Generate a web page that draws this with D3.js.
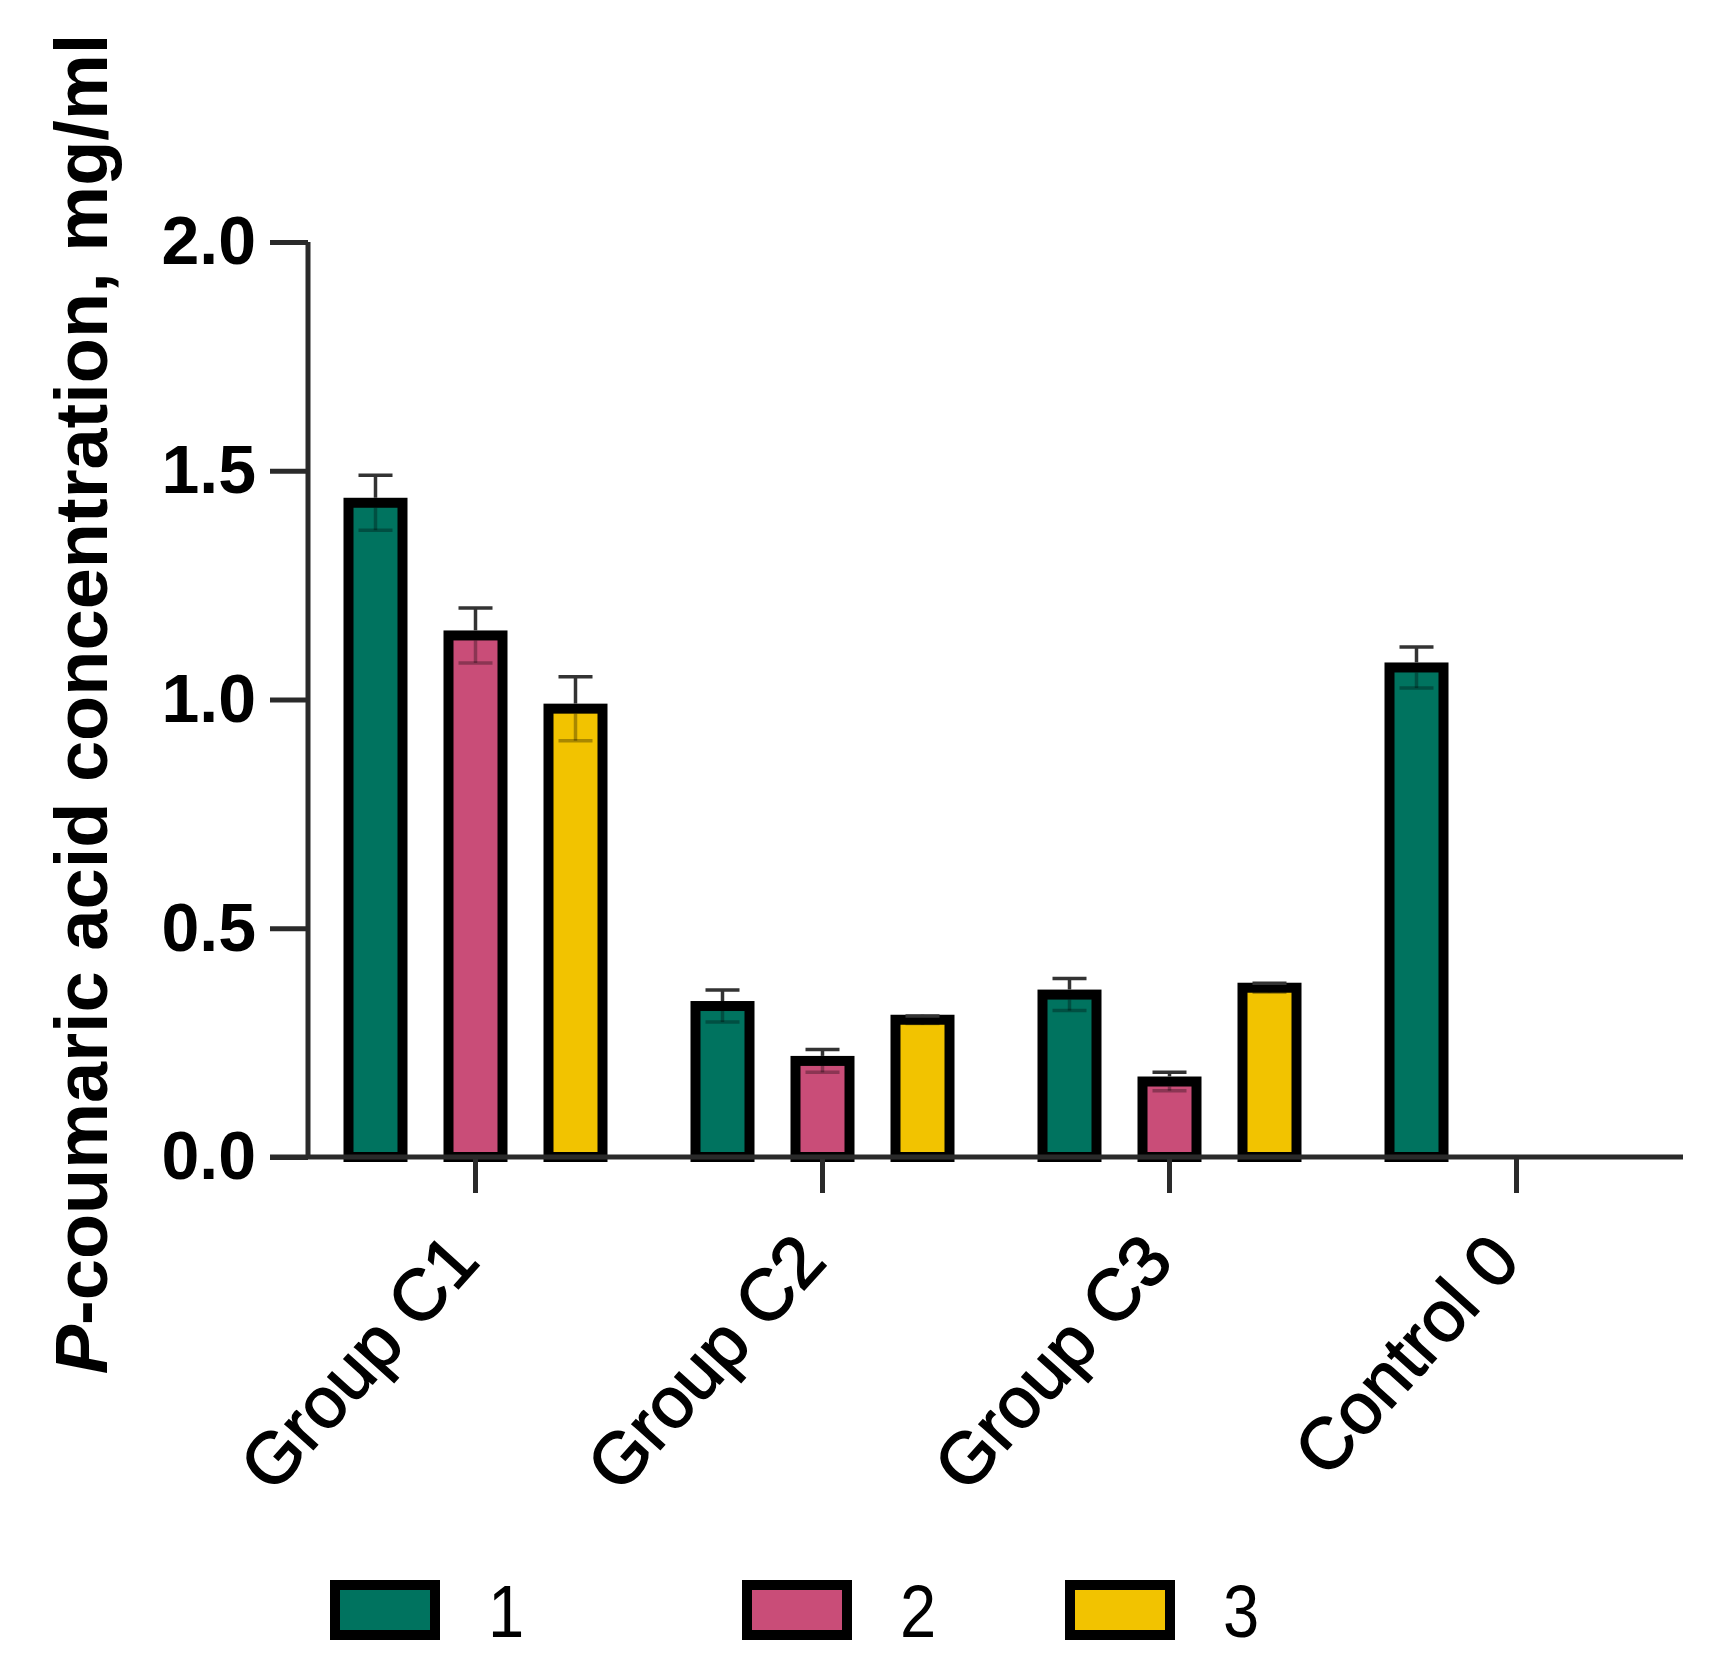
<!DOCTYPE html>
<html>
<head>
<meta charset="utf-8">
<script src="https://cdn.jsdelivr.net/npm/d3@7"></script>
<style>
  html, body { margin: 0; padding: 0; background: #fff; }
  svg { display: block; font-family: "Liberation Sans", Arial, Helvetica, sans-serif; }
</style>
</head>
<body>
<svg id="chart" width="1725" height="1678"></svg>
<script>
// ---- data ----
const groups = ["Group C1", "Group C2", "Group C3", "Control 0"];
const series = ["1", "2", "3"];
const values1 = [1.43, 0.33, 0.355, 1.07];
const values2 = [1.14, 0.21, 0.165, null];
const values3 = [0.98, 0.30, 0.37, null];
const errors1 = [0.06, 0.035, 0.035, 0.045];
const errors2 = [0.06, 0.025, 0.02, null];
const errors3 = [0.07, 0.008, 0.01, null];
const yTicks = [0.0, 0.5, 1.0, 1.5, 2.0];
const colors = ["#00735F", "#C94D78", "#F2C300"];
const yTitleMain = "-coumaric acid concentration, mg/ml";

const seriesValues = [values1, values2, values3];
const seriesErrors = [errors1, errors2, errors3];

const svg = d3.select("#chart");
svg.append("rect").attr("width", 1725).attr("height", 1678).attr("fill", "#fff");

const x = d3.scaleBand().domain(groups).range([302, 1690]).padding(0);
const xInner = d3.scaleBand().domain(series).range([23.5, 323.5]).paddingInner(0.46).paddingOuter(0.23);
const y = d3.scaleLinear().domain([0, 2]).range([1157, 242]);

const axisColor = "#2a2a2a";

// bars
const barData = [];
groups.forEach((g, gi) => {
  series.forEach((s, si) => {
    const v = seriesValues[si][gi];
    if (v !== null && v !== undefined) {
      barData.push({ g, s, si, v, e: seriesErrors[si][gi] });
    }
  });
});

const barG = svg.append("g");
barG.selectAll("rect").data(barData).enter().append("rect")
  .attr("x", d => x(d.g) + xInner(d.s))
  .attr("y", d => y(d.v))
  .attr("width", xInner.bandwidth())
  .attr("height", d => y(0) - y(d.v))
  .attr("fill", d => colors[d.si])
  .attr("stroke", "#000")
  .attr("stroke-width", 10);

// error bars
const errG = svg.append("g");
const capW = 34;
barData.forEach(d => {
  const cx = x(d.g) + xInner(d.s) + xInner.bandwidth() / 2;
  // upper
  errG.append("line").attr("x1", cx).attr("x2", cx).attr("y1", y(d.v) - 5).attr("y2", y(d.v + d.e))
    .attr("stroke", "#333").attr("stroke-width", 3.5);
  errG.append("line").attr("x1", cx - capW / 2).attr("x2", cx + capW / 2).attr("y1", y(d.v + d.e)).attr("y2", y(d.v + d.e))
    .attr("stroke", "#333").attr("stroke-width", 3.5);
  // lower (faint, inside bar)
  errG.append("line").attr("x1", cx).attr("x2", cx).attr("y1", y(d.v) + 5).attr("y2", y(d.v - d.e))
    .attr("stroke", "#000").attr("stroke-width", 3.5).attr("opacity", 0.3);
  errG.append("line").attr("x1", cx - capW / 2).attr("x2", cx + capW / 2).attr("y1", y(d.v - d.e)).attr("y2", y(d.v - d.e))
    .attr("stroke", "#000").attr("stroke-width", 3.5).attr("opacity", 0.3);
});

// y axis
const yAxis = d3.axisLeft(y).tickValues(yTicks).tickFormat(d3.format(".1f")).tickSize(38).tickPadding(14);
const yAxisG = svg.append("g").attr("transform", "translate(308,0)").call(yAxis);
yAxisG.select(".domain").attr("stroke", axisColor).attr("stroke-width", 5).attr("d", `M0,${y(2)}V${y(0)}`);
yAxisG.selectAll(".tick line").attr("stroke", axisColor).attr("stroke-width", 5);
yAxisG.selectAll(".tick text").attr("fill", "#000").attr("font-size", 68).attr("font-weight", "bold")
  .attr("font-family", "Liberation Sans, Arial, sans-serif");

// x axis
const xAxis = d3.axisBottom(x).tickSize(36).tickFormat("");
const xAxisG = svg.append("g").attr("transform", `translate(0,${y(0)})`).call(xAxis);
xAxisG.select(".domain").attr("stroke", axisColor).attr("stroke-width", 5).attr("d", `M270,0H1683`);
xAxisG.selectAll(".tick line").attr("stroke", axisColor).attr("stroke-width", 5);

// x labels
svg.append("g").selectAll("text").data(groups).enter().append("text")
  .attr("transform", d => `translate(${x(d) + x.bandwidth() / 2 + 6},${y(0) + 106}) rotate(-48)`)
  .attr("text-anchor", "end")
  .attr("font-size", 72)
  .attr("fill", "#000")
  .attr("stroke", "#000")
  .attr("stroke-width", 1.5)
  .text(d => d);

// y title
const yt = svg.append("text")
  .attr("transform", "translate(107,704) rotate(-90)")
  .attr("text-anchor", "middle")
  .attr("font-size", 74)
  .attr("font-weight", "bold")
  .attr("fill", "#000");
yt.append("tspan").attr("font-style", "italic").text("P");
yt.append("tspan").text(yTitleMain);

// legend
const legendX = [330, 742, 1065];
const legG = svg.append("g");
series.forEach((s, i) => {
  legG.append("rect").attr("x", legendX[i] + 5).attr("y", 1585).attr("width", 100).attr("height", 50)
    .attr("fill", colors[i]).attr("stroke", "#000").attr("stroke-width", 10);
  legG.append("text").attr("x", legendX[i] + 158).attr("y", 1637).attr("font-size", 74)
    .attr("transform", `translate(${legendX[i] + 158},0) scale(0.88,1) translate(${-(legendX[i] + 158)},0)`)
    .attr("fill", "#000").text(s);
});
</script>
</body>
</html>
